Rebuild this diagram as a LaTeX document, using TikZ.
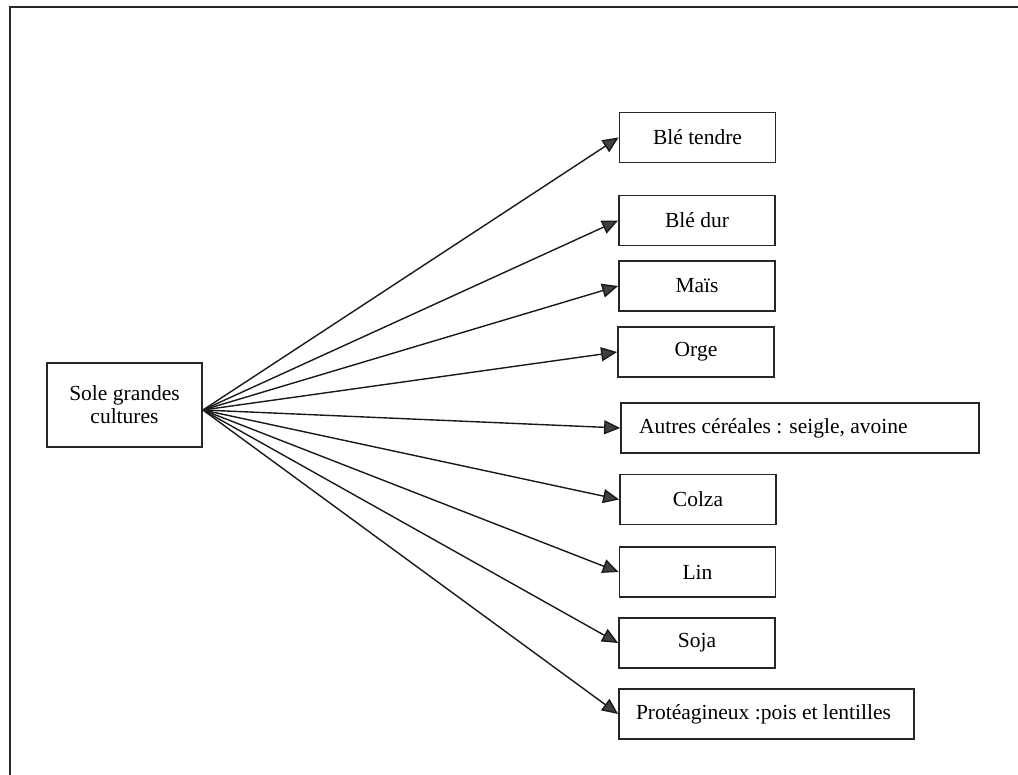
\documentclass[tikz,border=0pt]{standalone}
\usepackage{fontspec}
\setmainfont{Liberation Serif}
\usetikzlibrary{arrows.meta}
\begin{document}
\begin{tikzpicture}[x=0.5pt,y=-0.5pt,
  font=\fontsize{10.75}{11.5}\selectfont,
  box/.style={draw=black!85, line width=0.9pt, minimum width=78pt, minimum height=25pt, inner sep=2pt, align=center},
  widebox/.style={draw=black!85, line width=0.9pt, minimum height=25pt, inner ysep=2pt, align=flush left},
  link/.style={draw=black!90, line width=0.7pt, -{Triangle[length=8pt,width=7pt,fill=black!75]}}]
\useasboundingbox (0,0) rectangle (1018,775);
\draw[line width=1pt, black!85] (10,775) -- (10,7) -- (1018,7);
\node[box, minimum width=77.5pt, minimum height=42pt] (src) at (124.5,405) {Sole grandes\\cultures};
\node[box] (b1) at (697.5,137.5) {Blé tendre};
\node[box] (b2) at (697,220.5) {Blé dur};
\node[box] (b3) at (697,286) {Maïs};
\node[box] (b4) at (696,352) {Orge};
\node[widebox, inner xsep=9pt, text width=161pt] (b5) at (800,428) {Autres céréales : seigle, avoine};
\node[box] (b6) at (698,499.5) {Colza};
\node[box] (b7) at (697.5,572) {Lin};
\node[box] (b8) at (697,643) {Soja};
\node[widebox, inner xsep=8.5pt, text width=130.5pt] (b9) at (766.5,714) {Protéagineux :pois et lentilles};
\foreach \t in {b1,b2,b3,b4,b5,b6,b7,b8,b9}
  \draw[link] ([yshift=-2.5pt]src.east) -- (\t.west);
\end{tikzpicture}
\end{document}
